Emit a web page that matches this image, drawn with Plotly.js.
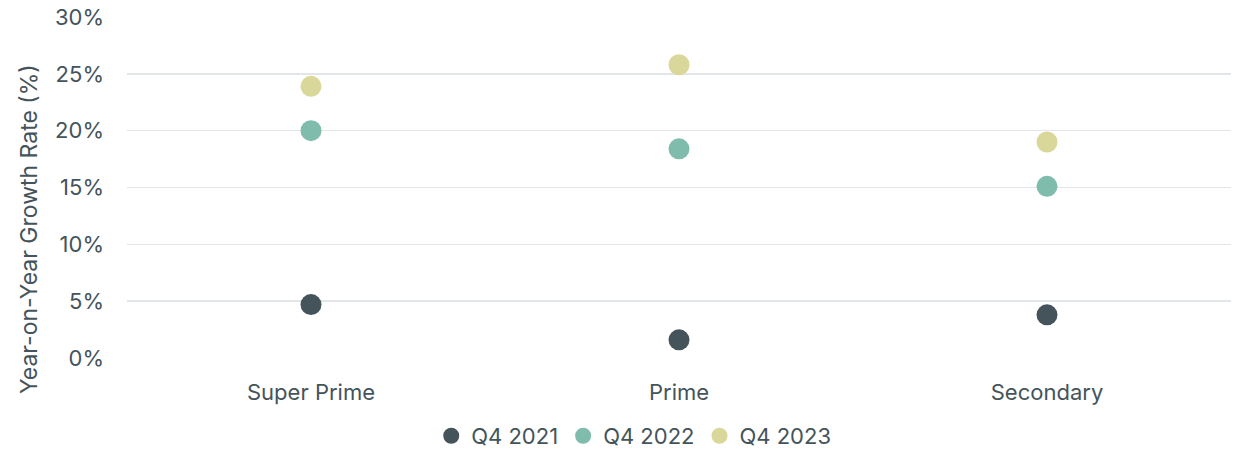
<!DOCTYPE html>
<html>
<head>
<meta charset="utf-8">
<script src="https://cdn.plot.ly/plotly-3.0.1.min.js"></script>
<style>html,body{margin:0;padding:0;background:#fff;}#chart{width:1242px;height:449px;}</style>
</head>
<body>
<div id="chart"></div>
<script>
const categories = ["Super Prime", "Prime", "Secondary"];
const seriesNames = ["Q4 2021", "Q4 2022", "Q4 2023"];
const q4_2021 = [4.7, 1.6, 3.8];
const q4_2022 = [20.0, 18.4, 15.1];
const q4_2023 = [23.9, 25.8, 19.0];
const yTickVals = [0, 5, 10, 15, 20, 25, 30];
const yTickText = ["0%", "5%", "10%", "15%", "20%", "25%", "30%"];
const yTitle = "Year-on-Year Growth Rate (%)";

const colors = ["#44545a", "#80bcab", "#d9d799"];
const values = [q4_2021, q4_2022, q4_2023];
const textColor = "#44545a";
const font = "Inter, 'Noto Sans', sans-serif";

const traces = seriesNames.map((name, i) => ({
  type: "scatter",
  mode: "markers",
  name: name,
  x: categories,
  y: values[i],
  marker: {color: colors[i], size: 21, line: {width: 0}},
  hoverinfo: "skip"
}));

const layout = {
  width: 1242, height: 449,
  margin: {l: 127, r: 11, t: 17, b: 91, autoexpand: false},
  paper_bgcolor: "#ffffff",
  plot_bgcolor: "#ffffff",
  font: {family: font, color: textColor, size: 22},
  showlegend: true,
  legend: {
    orientation: "h", x: 0.459, xanchor: "center",
    yref: "container", y: 0.029, yanchor: "middle",
    font: {size: 22, color: textColor}, itemwidth: 30, tracegroupgap: 0
  },
  xaxis: {
    type: "category", range: [-0.5, 2.5], showgrid: false, zeroline: false,
    showline: false, ticks: "", tickfont: {size: 22, color: textColor},
    ticklabelstandoff: 19, automargin: false
  },
  yaxis: {
    range: [0, 30], tickvals: yTickVals, ticktext: yTickText,
    showgrid: true, gridcolor: "#e3e6e8", gridwidth: 1.5, zeroline: false,
    showline: false, ticks: "", tickfont: {size: 22, color: textColor},
    ticklabelstandoff: 22, automargin: false
  },
  annotations: [{
    text: yTitle, textangle: -90, showarrow: false,
    xref: "paper", yref: "paper", x: -0.0888, y: 0.378,
    xanchor: "center", yanchor: "middle",
    font: {size: 23, color: textColor}
  }]
};

Plotly.newPlot("chart", traces, layout, {displayModeBar: false, staticPlot: true});
</script>
</body>
</html>
